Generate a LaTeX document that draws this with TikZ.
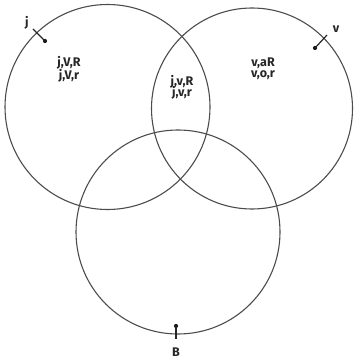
\documentclass[tikz,border=0pt]{standalone}
\usepackage{fontspec}
\setmainfont{Fira Sans}
\begin{document}
\begin{tikzpicture}[x=1pt,y=-1pt,
  ring/.style={draw=black!70,line width=1.1pt,circle,inner sep=0pt},
  lab/.style={font=\fontsize{12.5}{13}\selectfont\bfseries,text=black!85,inner sep=0pt,align=center},
  tick/.style={draw=black!85,line width=1.2pt},
  tipdot/.style={circle,fill=black!90,inner sep=0pt,minimum size=4.2pt}]
\useasboundingbox (0,0) rectangle (353,363);
\node[ring,minimum size=205pt] (cj) at (107.5,107) {};
\node[ring,minimum size=201pt] (cv) at (252,108.5) {};
\node[ring,minimum size=204pt] (cb) at (178,232) {};
% labels in regions
\node[lab] (tj) at (69,69) {j,V,R\\[0pt]j,V,r};
\node[lab] (tm) at (182,87) {j,v,R\\[-2pt]j,v,r};
\node[lab] (tv) at (263,69) {v,aR\\[-2pt]v,o,r};
% j mark
\node[lab] (lj) at (27,23) {j};
\coordinate (j0) at (33,29);
\node[tipdot] (j1) at (45,41) {};
\draw[tick] (j0) -- (j1.center);
% v mark
\node[lab] (lv) at (336,29) {v};
\coordinate (v0) at (327,35);
\node[tipdot] (v1) at (315,48) {};
\draw[tick] (v0) -- (v1.center);
% B mark
\node[lab] (lb) at (176,352) {B};
\coordinate (b0) at (176,339);
\node[tipdot] (b1) at (176,326) {};
\draw[tick] (b0) -- (b1.center);
\end{tikzpicture}
\end{document}
